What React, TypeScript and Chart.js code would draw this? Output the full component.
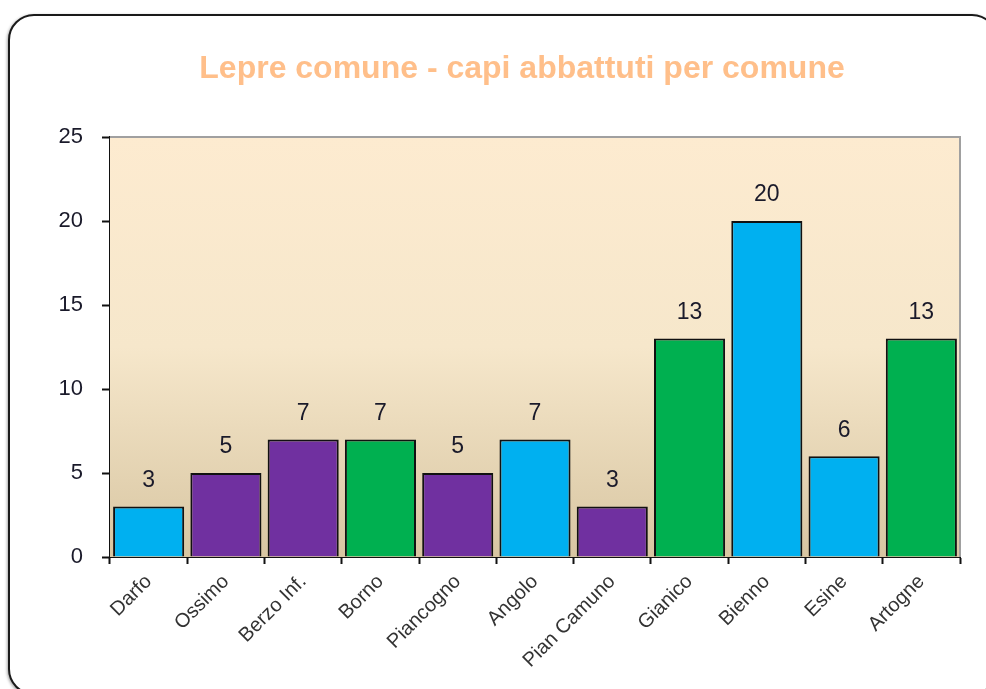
import React, { useEffect, useRef } from "react";
import { Chart, registerables } from "chart.js";

Chart.register(...registerables);

const TITLE = "Lepre comune - capi abbattuti per comune";
const categories = [
  "Darfo",
  "Ossimo",
  "Berzo Inf.",
  "Borno",
  "Piancogno",
  "Angolo",
  "Pian Camuno",
  "Gianico",
  "Bienno",
  "Esine",
  "Artogne",
];
const values = [3, 5, 7, 7, 5, 7, 3, 13, 20, 6, 13];
const barColors = [
  "#00b0f0",
  "#7030a0",
  "#7030a0",
  "#00b050",
  "#7030a0",
  "#00b0f0",
  "#7030a0",
  "#00b050",
  "#00b0f0",
  "#00b0f0",
  "#00b050",
];
const yMin = 0;
const yMax = 25;
const yStep = 5;

const FONT = "'Liberation Sans', Arial, sans-serif";

const plotBg = {
  id: "plotBg",
  beforeDatasetsDraw(chart: any) {
    const { ctx, chartArea: a } = chart;
    ctx.save();
    const g = ctx.createLinearGradient(0, a.top, 0, a.bottom);
    g.addColorStop(0, "#fdebd0");
    g.addColorStop(0.5, "#f6e7cb");
    g.addColorStop(1, "#d8c6a2");
    ctx.fillStyle = g;
    ctx.fillRect(a.left, a.top, a.right - a.left, a.bottom - a.top);
    ctx.strokeStyle = "#a0a0a0";
    ctx.lineWidth = 2;
    ctx.beginPath();
    ctx.moveTo(a.left, a.top);
    ctx.lineTo(a.right, a.top);
    ctx.lineTo(a.right, a.bottom);
    ctx.stroke();
    ctx.restore();
  },
};

const titleText = {
  id: "titleText",
  afterDraw(chart: any) {
    const { ctx, chartArea: a } = chart;
    ctx.save();
    ctx.font = `bold 32px ${FONT}`;
    ctx.fillStyle = "#ffbf8a";
    ctx.textAlign = "center";
    ctx.textBaseline = "alphabetic";
    ctx.fillText(TITLE, (a.left + a.right) / 2 - 13, a.top - 59);
    ctx.restore();
  },
};

const dataLabels = {
  id: "dataLabels",
  afterDatasetsDraw(chart: any) {
    const { ctx } = chart;
    const meta = chart.getDatasetMeta(0);
    ctx.save();
    ctx.font = `23px ${FONT}`;
    ctx.fillStyle = "#1a1a2a";
    ctx.textAlign = "center";
    ctx.textBaseline = "middle";
    meta.data.forEach((bar: any, i: number) => {
      ctx.fillText(String(values[i]), bar.x, bar.y - 26);
    });
    ctx.restore();
  },
};

export default function App() {
  const ref = useRef<HTMLCanvasElement | null>(null);

  useEffect(() => {
    if (!ref.current) return;
    const chart = new Chart(ref.current, {
      type: "bar",
      data: {
        labels: categories,
        datasets: [
          {
            data: values,
            backgroundColor: barColors,
            borderColor: "#111111",
            borderWidth: 2,
            barPercentage: 0.92,
            categoryPercentage: 1,
          },
        ],
      },
      options: {
        animation: false,
        responsive: false,
        maintainAspectRatio: false,
        layout: { padding: { left: 40, right: 26, top: 137, bottom: 0 } },
        plugins: {
          legend: { display: false },
          tooltip: { enabled: false },
          title: { display: false },
        },
        scales: {
          x: {
            grid: {
              drawOnChartArea: false,
              drawTicks: true,
              tickLength: 7,
              tickColor: "#111",
              tickWidth: 2,
              offset: true,
            },
            border: { display: true, color: "#111", width: 2 },
            ticks: {
              color: "#333333",
              font: { family: FONT, size: 20 },
              minRotation: 45,
              maxRotation: 45,
              padding: 6,
              autoSkip: false,
            },
            afterFit(scale: any) {
              scale.height = 132;
            },
          },
          y: {
            min: yMin,
            max: yMax,
            grid: {
              drawOnChartArea: false,
              drawTicks: true,
              tickLength: 8,
              tickColor: "#111",
              tickWidth: 2,
            },
            border: { display: true, color: "#111", width: 2 },
            ticks: {
              stepSize: yStep,
              color: "#1a1a2a",
              font: { family: FONT, size: 22 },
              padding: 19,
            },
            afterFit(scale: any) {
              scale.width = 70;
            },
          },
        },
      },
      plugins: [plotBg, dataLabels, titleText],
    });
    return () => chart.destroy();
  }, []);

  return (
    <div>
      <div
        style={{
          position: "fixed",
          left: 8,
          top: 14,
          width: 990,
          height: 681,
          boxSizing: "border-box",
          border: "2px solid #1a1a1a",
          borderRadius: 26,
          boxShadow: "-1px 1px 3px rgba(0,0,0,0.35)",
          background: "#ffffff",
        }}
      />
      <canvas
        ref={ref}
        width={986}
        height={689}
        style={{ position: "fixed", left: 0, top: 0, width: 986, height: 689 }}
      />
    </div>
  );
}
